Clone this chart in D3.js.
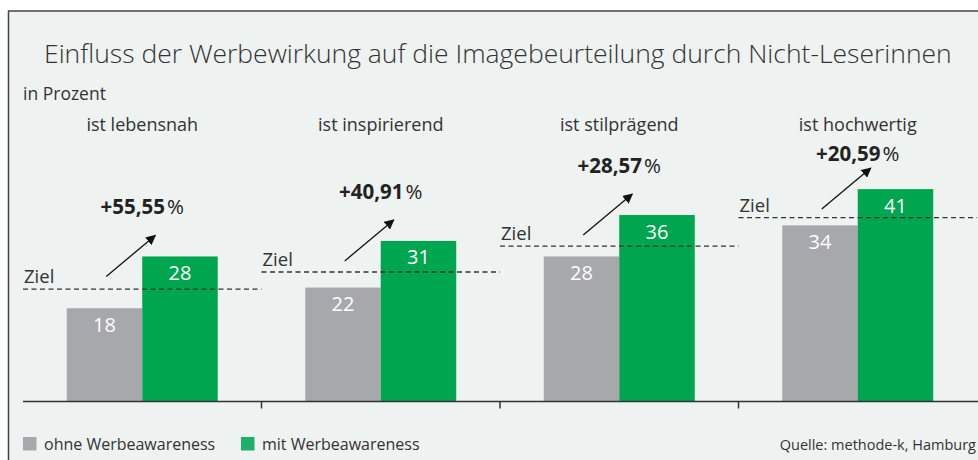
<!DOCTYPE html>
<html>
<head>
<meta charset="utf-8">
<script src="https://cdn.jsdelivr.net/npm/d3@7"></script>
<style>
  html, body { margin: 0; padding: 0; background: #fff; }
  svg { display: block; font-family: "Open Sans", "Noto Sans", sans-serif; }
</style>
</head>
<body>
<script>
var width = 978,
    height = 460;

// data
var categories = ["ist lebensnah", "ist inspirierend", "ist stilprägend", "ist hochwertig"];
var series = ["ohne Werbeawareness", "mit Werbeawareness"];
var ohne = [18, 22, 28, 34];
var mit = [28, 31, 36, 41];
var ziel = [21.7, 25, 30, 35.5];
var change = ["+55,55", "+40,91", "+28,57", "+20,59"];

var colors = ["#a7a8ac", "#00a54f"];
var legendColors = ["#a7a8ac", "#1db066"];
var ink = "#333";

var svg = d3.select("body").append("svg")
    .attr("width", width)
    .attr("height", height);

// panel
svg.append("rect")
    .attr("x", 8.5).attr("y", 11)
    .attr("width", width).attr("height", height)
    .attr("fill", "#eef2f1")
    .attr("stroke", "#444")
    .attr("stroke-width", 1.5);

var x0 = d3.scaleBand()
    .domain(categories)
    .range([23, 977]);

var x1 = d3.scaleBand()
    .domain(series)
    .range([0, x0.bandwidth()])
    .paddingOuter(0.58);

var y = d3.scaleLinear()
    .domain([0, 50])
    .range([401.5, 142.5]);

// title, sized to span the same width as the original
var title = svg.append("text")
    .attr("x", 44).attr("y", 63)
    .attr("font-size", 28)
    .attr("font-weight", 300)
    .attr("fill", ink)
    .text("Einfluss der Werbewirkung auf die Imagebeurteilung durch Nicht-Leserinnen");
var tl = title.node().getComputedTextLength();
if (tl > 908) title.attr("font-size", 28 * 908 / tl);

svg.append("text")
    .attr("x", 23).attr("y", 100)
    .attr("font-size", 17.5)
    .attr("fill", ink)
    .text("in Prozent");

var rows = categories.map(function(c, i) {
  return { cat: c, vals: [ohne[i], mit[i]], ziel: ziel[i], change: change[i] };
});

var g = svg.selectAll(".group")
    .data(rows)
  .enter().append("g")
    .attr("class", "group")
    .attr("transform", function(d) { return "translate(" + x0(d.cat) + ",0)"; });

// category header
g.append("text")
    .attr("x", x0.bandwidth() / 2)
    .attr("y", 131)
    .attr("text-anchor", "middle")
    .attr("font-size", 18)
    .attr("fill", ink)
    .text(function(d) { return d.cat; });

// bars
g.selectAll("rect")
    .data(function(d) { return d.vals.map(function(v, j) { return { s: series[j], v: v, j: j }; }); })
  .enter().append("rect")
    .attr("x", function(d) { return x1(d.s); })
    .attr("y", function(d) { return y(d.v); })
    .attr("width", x1.bandwidth())
    .attr("height", function(d) { return y(0) - y(d.v); })
    .attr("fill", function(d) { return colors[d.j]; });

g.selectAll(".val")
    .data(function(d) { return d.vals.map(function(v, j) { return { s: series[j], v: v }; }); })
  .enter().append("text")
    .attr("class", "val")
    .attr("x", function(d) { return x1(d.s) + x1.bandwidth() / 2; })
    .attr("y", function(d) { return y(d.v) + 23.5; })
    .attr("text-anchor", "middle")
    .attr("font-size", 20)
    .attr("fill", "#fff")
    .text(function(d) { return d.v; });

// Ziel line
g.append("line")
    .attr("x1", 0).attr("x2", x0.bandwidth())
    .attr("y1", function(d) { return y(d.ziel); })
    .attr("y2", function(d) { return y(d.ziel); })
    .attr("stroke", ink)
    .attr("stroke-width", 1.3)
    .attr("stroke-dasharray", "5,3.5");

g.append("text")
    .attr("x", 1)
    .attr("y", function(d) { return y(d.ziel) - 6; })
    .attr("font-size", 18.5)
    .attr("fill", ink)
    .text("Ziel");

// arrows
svg.append("defs").append("marker")
    .attr("id", "head")
    .attr("viewBox", "0 0 10 10")
    .attr("refX", 9).attr("refY", 5)
    .attr("markerWidth", 10).attr("markerHeight", 10)
    .attr("markerUnits", "userSpaceOnUse")
    .attr("orient", "auto")
  .append("path")
    .attr("d", "M0,0L10,5L0,10z")
    .attr("fill", "#111");

var cx = x0.bandwidth() / 2;
g.append("line")
    .attr("x1", cx - 36)
    .attr("y1", function(d) { return y(d.vals[1]) + 20; })
    .attr("x2", cx + 13)
    .attr("y2", function(d) { return y(d.vals[1]) - 21; })
    .attr("stroke", "#111")
    .attr("stroke-width", 1.3)
    .attr("marker-end", "url(#head)");

var pct = g.append("text")
    .attr("x", cx)
    .attr("y", function(d) { return Math.max(y(d.vals[1]) - 42, 161); })
    .attr("text-anchor", "middle")
    .attr("font-size", 20.5)
    .attr("font-weight", 700)
    .attr("fill", "#222");
pct.append("tspan").text(function(d) { return d.change; });
pct.append("tspan").attr("dx", 2).attr("font-weight", 400).text("%");

// axis
var axis = svg.append("g")
    .attr("transform", "translate(0," + y(0) + ")");
axis.append("line")
    .attr("x1", 23).attr("x2", width)
    .attr("stroke", ink).attr("stroke-width", 1.5);
axis.selectAll(".tick")
    .data(categories.slice(1))
  .enter().append("line")
    .attr("x1", function(d) { return x0(d); })
    .attr("x2", function(d) { return x0(d); })
    .attr("y1", 0).attr("y2", 7)
    .attr("stroke", ink).attr("stroke-width", 1.5);

// legend
var leg = svg.selectAll(".leg")
    .data(series)
  .enter().append("g")
    .attr("class", "leg")
    .attr("transform", function(d, i) { return "translate(" + (i ? 241 : 23) + ",437)"; });
leg.append("rect")
    .attr("width", 13.5).attr("height", 13.5)
    .attr("fill", function(d, i) { return legendColors[i]; });
leg.append("text")
    .attr("x", 21).attr("y", 13)
    .attr("font-size", 16)
    .attr("fill", ink)
    .text(function(d) { return d; });

svg.append("text")
    .attr("x", 976).attr("y", 450)
    .attr("text-anchor", "end")
    .attr("font-size", 14.5)
    .attr("fill", ink)
    .text("Quelle: methode-k, Hamburg");
</script>
</body>
</html>
